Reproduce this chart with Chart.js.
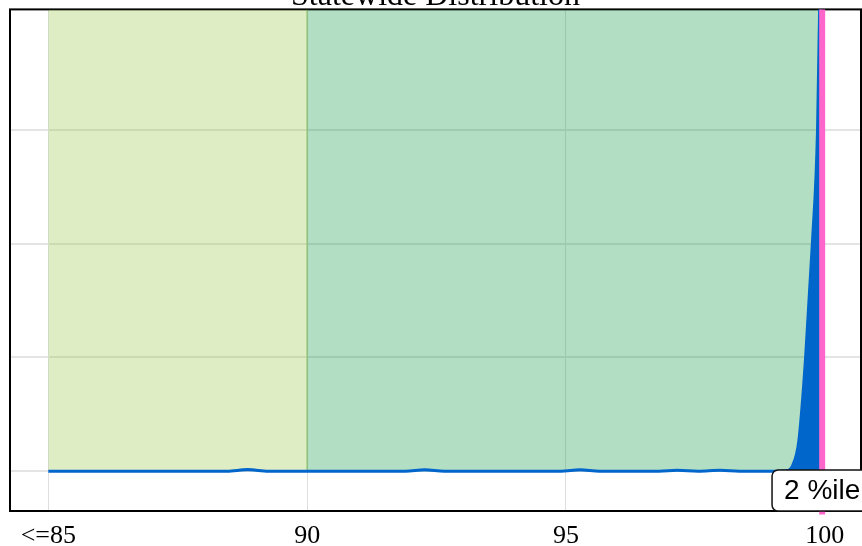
<!DOCTYPE html>
<html>
<head>
<meta charset="utf-8">
<title>Statewide Distribution</title>
<script src="https://cdn.jsdelivr.net/npm/chart.js@4.4.0/dist/chart.umd.min.js"></script>
<style>
  html, body { margin: 0; padding: 0; background: #fff; }
  #wrap { position: relative; width: 862px; height: 546px; }
</style>
</head>
<body>
<div id="wrap"><canvas id="myChart"></canvas></div>
<script>
// distribution curve (score -> density)
var scoreX = [85, 86, 87, 88, 88.45, 88.85, 89.25, 90, 91, 91.9, 92.27, 92.65, 93.5, 94.9, 95.27, 95.65,
              96.8, 97.15, 97.55, 97.98, 98.35, 99, 99.25, 99.38, 99.5, 99.63, 99.76, 99.86, 99.9, 99.95];
var densityY = [0, 0, 0, 0, 0, 0.014, 0, 0, 0, 0, 0.012, 0, 0, 0, 0.012, 0,
                0, 0.008, 0, 0.008, 0, 0, 0.005, 0.05, 0.27, 1.0, 2.0, 3.0, 4.05, 4.6];

// shaded bands
var bandStart = [85, 90];
var bandEnd = [90, 99.95];

// school position
var markerX = 99.95;
var markerLabel = '2 %ile';

var tickValues = [85, 90, 95, 100];
var tickLabels = ['<=85', '90', '95', '100'];

var xMin = 84.26, xMax = 100.7;
var yMin = -0.35, yMax = 4.06;

var curve = scoreX.map(function(x, i) { return {x: x, y: densityY[i]}; });

var framePlugin = {
    id: 'frame',
    beforeDatasetsDraw: function(chart) {
        var a = chart.chartArea, c = chart.ctx;
        c.save();
        c.strokeStyle = '#000';
        c.lineWidth = 2;
        c.strokeRect(a.left, a.top, a.right - a.left, a.bottom - a.top);
        c.restore();
    }
};

var markerPlugin = {
    id: 'markerLabel',
    afterDraw: function(chart) {
        var c = chart.ctx, a = chart.chartArea;
        var px = chart.scales.x.getPixelForValue(markerX);
        c.save();
        c.font = '28px "Liberation Sans", Arial, sans-serif';
        var w = c.measureText(markerLabel).width + 24;
        var h = 41;
        var left = px - w / 2, top = a.bottom - h;
        c.beginPath();
        c.roundRect(left, top, w, h, 6);
        c.fillStyle = '#fff';
        c.fill();
        c.lineWidth = 1.5;
        c.strokeStyle = '#111';
        c.stroke();
        c.fillStyle = '#000';
        c.textAlign = 'center';
        c.textBaseline = 'middle';
        c.fillText(markerLabel, px, top + h / 2 + 1);
        c.restore();
    }
};

var ctx = document.getElementById('myChart');
var myChart = new Chart(ctx, {
    type: 'line',
    data: {
        datasets: [{
            data: [{x: markerX, y: yMin - 0.03}, {x: markerX, y: yMax}],
            borderColor: '#ff66cc',
            borderWidth: 6,
            pointRadius: 0,
            fill: false,
            clip: false,
            order: 0
        }, {
            data: curve,
            borderColor: '#0066cc',
            backgroundColor: '#0066cc',
            borderWidth: 3,
            pointRadius: 0,
            cubicInterpolationMode: 'monotone',
            fill: 'origin',
            order: 1
        }, {
            data: [{x: bandEnd[0], y: 0}, {x: bandEnd[0], y: yMax}],
            borderColor: 'rgba(110,180,70,0.45)',
            borderWidth: 2,
            pointRadius: 0,
            fill: false,
            order: 2
        }, {
            data: [{x: bandStart[1], y: yMax}, {x: bandEnd[1], y: yMax}],
            borderWidth: 0,
            backgroundColor: 'rgba(0,145,55,0.3)',
            pointRadius: 0,
            fill: 'origin',
            order: 3
        }, {
            data: [{x: bandStart[0], y: yMax}, {x: bandEnd[0], y: yMax}],
            borderWidth: 0,
            backgroundColor: 'rgba(148,195,58,0.3)',
            pointRadius: 0,
            fill: 'origin',
            order: 4
        }]
    },
    options: {
        responsive: true,
        maintainAspectRatio: false,
        animation: false,
        layout: { padding: { left: 10, right: 1, top: 0, bottom: 0 } },
        plugins: {
            legend: { display: false },
            tooltip: { enabled: false },
            title: {
                display: true,
                text: 'Statewide Distribution',
                color: '#000',
                font: { family: '"Liberation Serif", "Times New Roman", serif', size: 32, weight: 'normal', lineHeight: 1.2 },
                padding: { top: -23, bottom: -6 }
            }
        },
        scales: {
            x: {
                type: 'linear',
                min: xMin,
                max: xMax,
                afterBuildTicks: function(axis) {
                    axis.ticks = tickValues.map(function(v) { return {value: v}; });
                },
                afterFit: function(axis) { axis.height = 35; },
                ticks: {
                    color: '#000',
                    padding: 10,
                    font: { family: '"Liberation Serif", "Times New Roman", serif', size: 26 },
                    callback: function(v) { return tickLabels[tickValues.indexOf(v)]; }
                },
                grid: { color: '#dedede', lineWidth: 1, drawTicks: false },
                border: { display: false }
            },
            y: {
                type: 'linear',
                min: yMin,
                max: yMax,
                afterBuildTicks: function(axis) {
                    axis.ticks = axis.ticks.filter(function(t) { return Number.isInteger(t.value); });
                },
                ticks: { display: false, stepSize: 1 },
                grid: { color: '#e4e4e4', lineWidth: 2, drawTicks: false },
                border: { display: false }
            }
        }
    },
    plugins: [framePlugin, markerPlugin]
});
</script>
</body>
</html>
